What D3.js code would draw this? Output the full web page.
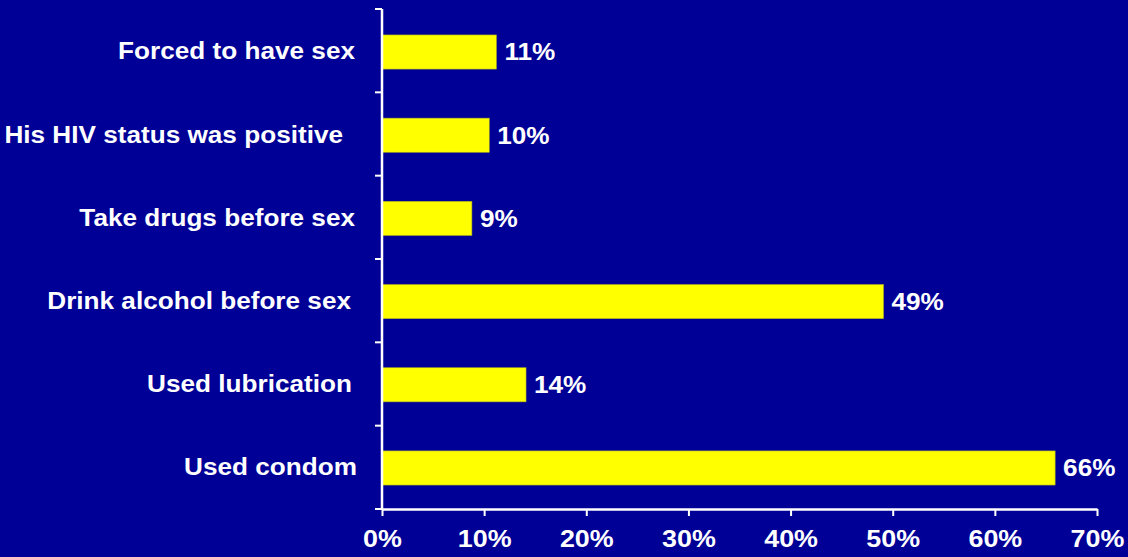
<!DOCTYPE html>
<html><head><meta charset="utf-8">
<script src="https://cdn.jsdelivr.net/npm/d3@7"></script>
<style>
html,body{margin:0;padding:0;background:#000096;}
svg{display:block;}
text{font-family:"Liberation Sans",Arial,sans-serif;font-weight:bold;fill:#fff;}
</style></head><body>
<script>
const categories = ["Forced to have sex","His HIV status was positive","Take drugs before sex","Drink alcohol before sex","Used lubrication","Used condom"];
const values = [11.2,10.5,8.8,49.1,14.1,65.9];
const valueLabels = ["11%","10%","9%","49%","14%","66%"];
const xTicks = [0,10,20,30,40,50,60,70];
const xTickLabels = ["0%","10%","20%","30%","40%","50%","60%","70%"];
const labelOffsets = [0,-12,0,-4,-3,2];

const W=1128,H=557, SX=1.09;
const svg=d3.select("body").append("svg").attr("width",W).attr("height",H);
svg.append("rect").attr("width",W).attr("height",H).attr("fill","#000096");

const x=d3.scaleLinear().domain([0,70]).range([382,1097]);
const y=d3.scaleBand().domain(categories).range([9,509]).paddingInner(0.59).paddingOuter(0.3);

// bars
svg.selectAll("rect.bar").data(values).join("rect").attr("class","bar")
  .attr("x",x(0)).attr("y",(d,i)=>y(categories[i])+1)
  .attr("width",d=>x(d)-x(0)).attr("height",y.bandwidth())
  .attr("fill","#ffff00").attr("stroke","#b0b020").attr("stroke-width",0.6);

// value labels
svg.selectAll("text.val").data(values).join("text").attr("class","val")
  .attr("transform",(d,i)=>`translate(${x(d)+8},${y(categories[i])+y.bandwidth()/2+1}) scale(${SX},1)`)
  .attr("dy","0.35em").attr("font-size",24).text((d,i)=>valueLabels[i]);

// y axis
const band=(509-9)/categories.length;
svg.append("line").attr("x1",382).attr("x2",382).attr("y1",9).attr("y2",510).attr("stroke","#fff").attr("stroke-width",2.5);
const bounds=d3.range(categories.length+1).map(i=>9+i*band);
svg.selectAll("line.yt").data(bounds).join("line").attr("class","yt")
  .attr("x1",375).attr("x2",382).attr("y1",d=>d).attr("y2",d=>d).attr("stroke","#fff").attr("stroke-width",2);

// category labels
svg.selectAll("text.cat").data(categories).join("text").attr("class","cat")
  .attr("transform",(d,i)=>`translate(${355+labelOffsets[i]},${y(d)+y.bandwidth()/2}) scale(${SX},1)`)
  .attr("dy","0.35em").attr("text-anchor","end").attr("font-size",24).text(d=>d);

// x axis
const xa=svg.append("g").attr("transform","translate(0,509)")
  .call(d3.axisBottom(x).tickValues(xTicks).tickFormat((d,i)=>xTickLabels[i]).tickSize(7).tickSizeOuter(0).tickPadding(14));
xa.select(".domain").attr("stroke","#fff").attr("stroke-width",2.5);
xa.selectAll(".tick line").attr("stroke","#fff").attr("stroke-width",2);
xa.selectAll(".tick text").attr("font-size",24).attr("fill","#fff")
  .attr("font-family","Liberation Sans, Arial, sans-serif").attr("font-weight","bold")
  .attr("transform",`scale(${SX+0.03},1)`);
</script>
</body></html>
